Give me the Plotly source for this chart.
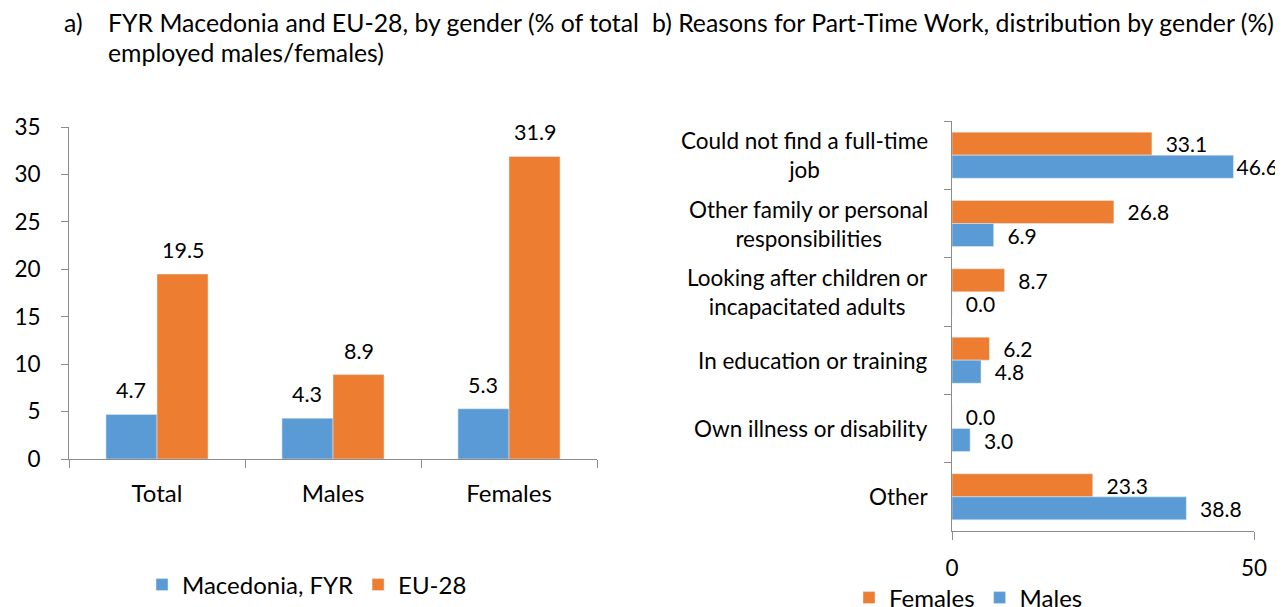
import plotly.graph_objects as go

# ---------------- data ----------------
groups = ["Total", "Males", "Females"]
macedonia = [4.7, 4.3, 5.3]
eu28 = [19.5, 8.9, 31.9]
yticks_a = [0, 5, 10, 15, 20, 25, 30, 35]

reasons = [
    "Could not find a full-time<br>job",
    "Other family or personal<br>responsibilities",
    "Looking after children or<br>incapacitated adults",
    "In education or training",
    "Own illness or disability",
    "Other",
]
females = [33.1, 26.8, 8.7, 6.2, 0.0, 23.3]
males = [46.6, 6.9, 0.0, 4.8, 3.0, 38.8]
xticks_b = [0, 50]

title_a_tag = "a)"
title_a_lines = ["FYR Macedonia and EU-28, by gender (% of total", "employed males/females)"]
title_b = "b) Reasons for Part-Time Work, distribution by gender (%)"

# ---------------- style ----------------
PAGE_W, PAGE_H = 1283, 607
BODY = 8                      # default page margin of the html body
W, H = PAGE_W - BODY, PAGE_H - BODY
FONT = "Lato, 'Open Sans', sans-serif"
FS = 22.5        # axis numbers / category labels
FS_VAL = 21      # bar value labels
FS_CAT = 24      # category labels of chart a
FS_LEG = 24
FS_TITLE = 24.8
BLUE = "#5B9BD5"
ORANGE = "#ED7D31"
AXIS = "#8C8C8C"

def px(x):
    """page pixel x -> paper fraction"""
    return (x - BODY) / W

def py(y):
    """page pixel y -> paper fraction"""
    return (PAGE_H - y) / H

fig = go.Figure()

# ----- chart a -----
wa = 0.29
fig.add_trace(go.Bar(
    x=groups, y=macedonia, name="Macedonia, FYR", marker_color=BLUE,
    offset=-wa, width=wa, xaxis="x", yaxis="y", legend="legend",
    hoverinfo="x+y",
))
fig.add_trace(go.Bar(
    x=groups, y=eu28, name="EU-28", marker_color=ORANGE,
    offset=0, width=wa, xaxis="x", yaxis="y", legend="legend",
    hoverinfo="x+y",
))

annotations = []
for i, (m, e) in enumerate(zip(macedonia, eu28)):
    for val, dx in ((m, -wa / 2), (e, wa / 2)):
        annotations.append(dict(
            x=i + dx, y=val, xref="x", yref="y", text=f"{val:.1f}",
            showarrow=False, yanchor="middle", yshift=24,
            font=dict(family=FONT, size=FS_VAL + 0.5, color="#000"),
        ))

# ----- chart b -----
wb = 0.337
def lab(v):
    pad = "" if v > 45 else "\u00a0\u00a0"
    return f"{pad}{v:.1f}"

for name, vals, col in (("Females", females, ORANGE), ("Males", males, BLUE)):
    fig.add_trace(go.Bar(
        y=reasons, x=vals, name=name, orientation="h", marker_color=col,
        offset=-wb if name == "Females" else 0, width=wb,
        xaxis="x2", yaxis="y2", legend="legend2",
        text=[lab(v) for v in vals], textposition="outside", cliponaxis=False,
        constraintext="none", textfont=dict(family=FONT, size=FS_VAL, color="#000"),
        hoverinfo="x+y",
    ))

# category labels for chart b (centred multi-line text)
for r in reasons:
    annotations.append(dict(
        x=px(952), y=r, xref="paper", yref="y2",
        text=f"<span style='font-size:{FS}px'>{r}</span>",
        showarrow=False, xanchor="right", yanchor="middle", xshift=-22,
        align="center", font=dict(family=FONT, size=22.3, color="#000"),
    ))

# titles
annotations.append(dict(
    x=px(62), y=py(22), xref="paper", yref="paper", text=title_a_tag,
    showarrow=False, xanchor="left", yanchor="middle",
    font=dict(family=FONT, size=FS_TITLE, color="#000"),
))
annotations.append(dict(
    x=px(106), y=py(37), xref="paper", yref="paper",
    text=f"<span style='font-size:{FS_TITLE}px'>" + "<br>".join(title_a_lines) + "</span>",
    showarrow=False, xanchor="left", yanchor="middle", align="left",
    font=dict(family=FONT, size=23, color="#000"),
))
annotations.append(dict(
    x=px(650), y=py(22), xref="paper", yref="paper", text=title_b,
    showarrow=False, xanchor="left", yanchor="middle",
    font=dict(family=FONT, size=FS_TITLE, color="#000"),
))

def axis(**kw):
    base = dict(
        showline=True, linecolor=AXIS, linewidth=1, ticks="outside",
        tickcolor=AXIS, tickwidth=1, ticklen=7, showgrid=False, zeroline=False,
        tickfont=dict(family=FONT, size=FS, color="#000"), fixedrange=True,
        automargin=False,
    )
    base.update(kw)
    return base

fig.update_layout(
    width=W, height=H,
    margin=dict(l=0, r=0, t=0, b=0, autoexpand=False),
    paper_bgcolor="white", plot_bgcolor="white",
    barmode="group",
    font=dict(family=FONT, size=FS, color="#000"),
    xaxis=axis(
        domain=[px(69), px(597)], anchor="y", type="category",
        categoryorder="array", categoryarray=groups, range=[-0.5, 2.5],
        tickson="boundaries", ticklen=8, ticklabelstandoff=13,
        tickfont=dict(family=FONT, size=FS_CAT, color="#000"),
    ),
    yaxis=axis(
        domain=[py(459), py(127)], anchor="x", range=[0, 35],
        tickvals=yticks_a, ticklabelstandoff=16,
    ),
    xaxis2=axis(
        domain=[px(952), px(1254)], anchor="y2", range=[0, 50],
        tickvals=xticks_b, ticklabelstandoff=9, ticklen=8,
        showgrid=True, gridcolor="#A6A6A6", griddash="dot",
    ),
    yaxis2=axis(
        domain=[py(531), py(121)], anchor="x2", type="category",
        categoryorder="array", categoryarray=reasons, range=[5.5, -0.5],
        tickson="boundaries", showticklabels=False,
    ),
    legend=dict(
        orientation="h", x=px(142), y=py(585), xanchor="left", yanchor="middle",
        font=dict(family=FONT, size=FS_LEG, color="#000"), bgcolor="rgba(0,0,0,0)",
        itemclick=False, itemdoubleclick=False,
    ),
    legend2=dict(
        orientation="h", x=px(849), y=py(598), xanchor="left", yanchor="middle",
        font=dict(family=FONT, size=FS_LEG, color="#000"), bgcolor="rgba(0,0,0,0)",
        itemclick=False, itemdoubleclick=False,
    ),
    annotations=annotations,
    showlegend=True,
)

fig.write_html("out.html")
